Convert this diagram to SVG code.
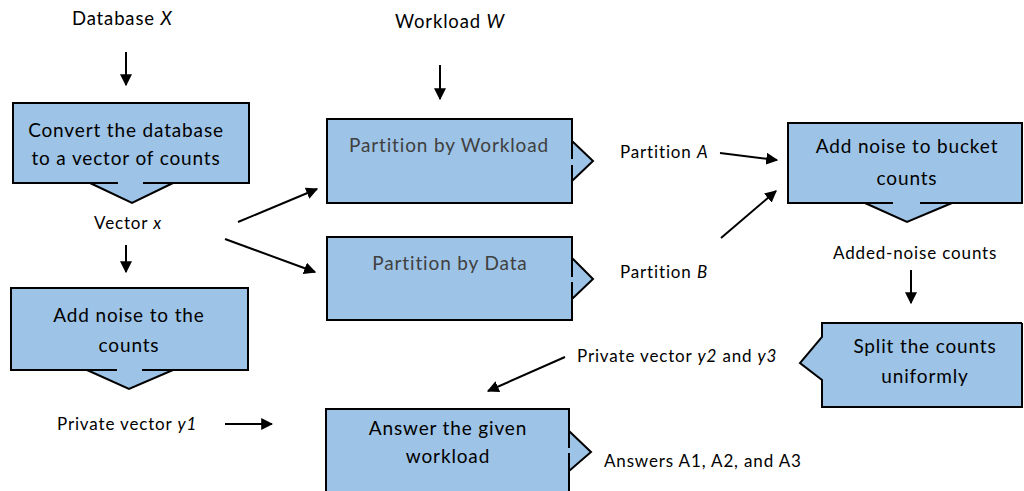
<svg xmlns="http://www.w3.org/2000/svg" width="1024" height="491" viewBox="0 0 1024 491">
  <defs>
    <marker id="head" viewBox="0 0 10 10" refX="9" refY="5" markerWidth="6" markerHeight="6" markerUnits="strokeWidth" orient="auto">
      <path d="M0,0 L10,5 L0,10 Z" fill="#000"/>
    </marker>
    <style>
      .box { fill: #9dc3e6; stroke: none; }
      .edge { fill: none; stroke: #000; stroke-width: 2; stroke-linejoin: miter; }
      .btxt { font-family: Lato, "Liberation Sans", sans-serif; font-size: 19px; letter-spacing: 0.85px; fill: #000; text-anchor: middle; }
      .gtxt { font-family: Lato, "Liberation Sans", sans-serif; font-size: 19px; letter-spacing: 0.85px; fill: #404040; text-anchor: middle; }
      .lbl { font-family: Lato, "Liberation Sans", sans-serif; font-size: 17px; letter-spacing: 0.85px; fill: #000; }
      .top { font-family: Lato, "Liberation Sans", sans-serif; font-size: 18.5px; letter-spacing: 0.85px; fill: #000; }
      .conn { stroke: #000; stroke-width: 2; fill: none; marker-end: url(#head); }
    </style>
  </defs>
  <rect width="1024" height="491" fill="#fff"/>

  <!-- free labels -->
  <text class="top" x="72" y="25">Database <tspan font-style="italic">X</tspan></text>
  <text class="top" x="395" y="28">Workload <tspan font-style="italic">W</tspan></text>
  <text class="lbl" x="128" y="229" text-anchor="middle">Vector <tspan font-style="italic">x</tspan></text>
  <text class="lbl" x="57" y="430">Private vector <tspan font-style="italic">y1</tspan></text>
  <text class="lbl" x="620" y="158">Partition <tspan font-style="italic">A</tspan></text>
  <text class="lbl" x="620" y="278">Partition <tspan font-style="italic">B</tspan></text>
  <text class="lbl" x="833" y="259">Added-noise counts</text>
  <text class="lbl" x="577" y="362">Private vector <tspan font-style="italic">y2</tspan> and <tspan font-style="italic">y3</tspan></text>
  <text class="lbl" x="604" y="467">Answers A1, A2, and A3</text>

  <!-- convert database -->
  <g id="convert">
    <path class="box" d="M13,103 H249 V183 H173 L132,203 L90,183 H13 Z"/>
    <path class="edge" d="M118,183 H13 V103 H249 V183 H143 M90,183 L132,203 L173,183"/>
    <text class="btxt" x="126" y="137">Convert the database</text>
    <text class="btxt" x="126" y="165">to a vector of counts</text>
  </g>

  <!-- add noise to counts -->
  <g id="noise-counts">
    <path class="box" d="M11,288 H248 V370 H173 L129,389 L87,370 H11 Z"/>
    <path class="edge" d="M117,370 H11 V288 H248 V370 H142 M87,370 L129,389 L173,370"/>
    <text class="btxt" x="129" y="322">Add noise to the</text>
    <text class="btxt" x="129" y="352">counts</text>
  </g>

  <!-- partition by workload -->
  <g id="part-workload">
    <path class="box" d="M327,119 H572 V141 L593,161 L572,181 V203 H327 Z"/>
    <path class="edge" d="M572,159 V119 H327 V203 H572 V165 M572,141 L593,161 L572,181"/>
    <text class="gtxt" x="449" y="152">Partition by Workload</text>
  </g>

  <!-- partition by data -->
  <g id="part-data">
    <path class="box" d="M327,237 H572 V258 L593,279 L572,299 V320 H327 Z"/>
    <path class="edge" d="M572,277 V237 H327 V320 H572 V282 M572,258 L593,279 L572,299"/>
    <text class="gtxt" x="450" y="270">Partition by Data</text>
  </g>

  <!-- add noise to buckets -->
  <g id="noise-buckets">
    <path class="box" d="M788,123 H1022 V203 H952 L907,222 L865,203 H788 Z"/>
    <path class="edge" d="M893,203 H788 V123 H1022 V203 H920 M865,203 L907,222 L952,203"/>
    <text class="btxt" x="907" y="153">Add noise to bucket</text>
    <text class="btxt" x="907" y="185">counts</text>
  </g>

  <!-- split counts -->
  <g id="split">
    <path class="box" d="M822,323 H1022 V407 H822 V380 L800,363 L822,337 Z"/>
    <path class="edge" d="M1022,323 H822 V337 L800,363 L822,380 V407 H1022 V323"/>
    <text class="btxt" x="925" y="353">Split the counts</text>
    <text class="btxt" x="925" y="383">uniformly</text>
  </g>

  <!-- answer workload -->
  <g id="answer">
    <path class="box" d="M326,409 H569 V431 L591,452 L569,471 V495 H326 Z"/>
    <path class="edge" d="M326,495 V409 H569 V448 M569,453 V495 M569,431 L591,452 L569,471"/>
    <text class="btxt" x="448" y="435">Answer the given</text>
    <text class="btxt" x="448" y="463">workload</text>
  </g>

  <!-- connectors -->
  <g id="connectors">
    <line class="conn" x1="126" y1="52" x2="126" y2="85"/>
    <line class="conn" x1="440" y1="65" x2="440" y2="99"/>
    <line class="conn" x1="126" y1="245" x2="126" y2="272"/>
    <line class="conn" x1="238" y1="222" x2="317" y2="189"/>
    <line class="conn" x1="225" y1="239" x2="315" y2="272"/>
    <line class="conn" x1="225" y1="424" x2="272" y2="424"/>
    <line class="conn" x1="720" y1="153" x2="777" y2="160"/>
    <line class="conn" x1="721" y1="238" x2="776" y2="191"/>
    <line class="conn" x1="911" y1="270" x2="911" y2="303"/>
    <line class="conn" x1="565" y1="357" x2="488" y2="391"/>
  </g>
</svg>
